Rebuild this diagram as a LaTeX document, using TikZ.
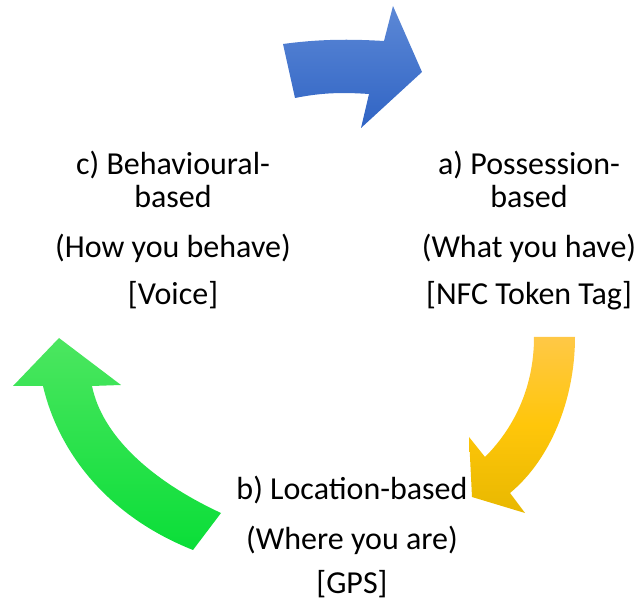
\documentclass[tikz,border=0pt]{standalone}
\usepackage{fontspec}
\setmainfont{Carlito}
\usetikzlibrary{shadings}
\tikzset{
    label/.style={anchor=base, inner sep=0pt, font=\fontsize{32}{36}\selectfont},
}
\begin{document}
\begin{tikzpicture}[x=1pt,y=-1pt]
        \useasboundingbox (0,0) rectangle (641,604);
        % blue arrow on top
        \shade[top color={rgb,255:red,92;green,136;blue,214}, bottom color={rgb,255:red,48;green,100;blue,196}]
        (283,44) .. controls (320,39) and (350,39) .. (384,41)
        -- (393,6) -- (422,72) -- (361,128) -- (369,94)
        .. controls (340,92) and (320,93) .. (295,98) -- cycle;
        % yellow arrow on the right
        \shade[top color={rgb,255:red,255;green,200;blue,70}, bottom color={rgb,255:red,232;green,184;blue,0}, middle color={rgb,255:red,255;green,198;blue,10}]
        (534,337) -- (575,337)
        .. controls (575,400) and (550,460) .. (510,493)
        -- (525,513) -- (472,497) -- (469,437) -- (485,457)
        .. controls (512,430) and (534,390) .. (534,337) -- cycle;
        % green arrow on the left
        \shade[top color={rgb,255:red,76;green,230;blue,96}, bottom color={rgb,255:red,10;green,222;blue,56}]
        (193,550) -- (221,513)
        .. controls (150,480) and (102,435) .. (92,386)
        -- (121,385) -- (59,338) -- (13,386) -- (43,386)
        .. controls (58,450) and (105,515) .. (193,550) -- cycle;
        % a) possession
        \node[label] (possA) at (529,175) {a) Possession-};
        \node[label] (possB) at (529,208) {based};
        \node[label] (possC) at (529,258) {(What you have)};
        \node[label] (possD) at (529,305) {[NFC Token Tag]};
        % c) behaviour
        \node[label] (behA) at (173,175) {c) Behavioural-};
        \node[label] (behB) at (173,208) {based};
        \node[label] (behC) at (173,258) {(How you behave)};
        \node[label] (behD) at (173,305) {[Voice]};
        % b) location
        \node[label] (locA) at (352,500) {b) Location-based};
        \node[label] (locB) at (352,550) {(Where you are)};
        \node[label] (locC) at (352,593) {[GPS]};
    \end{tikzpicture}
\end{document}
